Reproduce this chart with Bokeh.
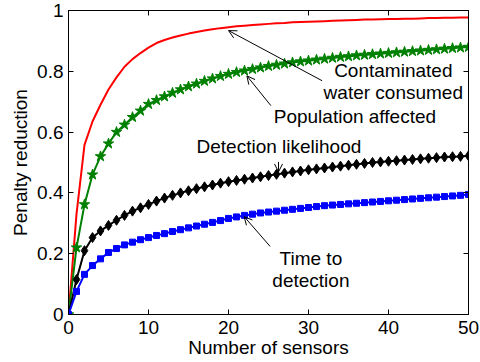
from bokeh.plotting import figure
from bokeh.models import (FixedTicker, LinearAxis, Range1d, Label, Arrow, OpenHead,
                          CustomJSTickFormatter)
from bokeh.embed import file_html
from bokeh.resources import INLINE

sensors = list(range(0, 51))

contaminated = [0, 0.33, 0.558, 0.635, 0.69, 0.74, 0.78, 0.815, 0.84, 0.86,
                0.878, 0.893, 0.903, 0.911, 0.918, 0.924, 0.929, 0.934, 0.938, 0.942,
                0.945, 0.948, 0.950, 0.952, 0.954, 0.956, 0.958, 0.959, 0.961, 0.962,
                0.963, 0.964, 0.965, 0.966, 0.967, 0.968, 0.969, 0.970, 0.970, 0.971,
                0.972, 0.972, 0.973, 0.973, 0.974, 0.975, 0.975, 0.976, 0.976, 0.977,
                0.977]

population = [0, 0.22, 0.362, 0.46, 0.52, 0.562, 0.60, 0.624, 0.649, 0.67,
              0.692, 0.705, 0.717, 0.729, 0.740, 0.750, 0.759, 0.768, 0.776, 0.784,
              0.791, 0.797, 0.802, 0.807, 0.812, 0.817, 0.821, 0.825, 0.829, 0.832,
              0.835, 0.838, 0.841, 0.844, 0.847, 0.849, 0.852, 0.854, 0.856, 0.858,
              0.860, 0.862, 0.864, 0.866, 0.868, 0.870, 0.872, 0.874, 0.876, 0.878,
              0.880]

likelihood = [0, 0.115, 0.21, 0.253, 0.275, 0.293, 0.31, 0.326, 0.34, 0.351,
              0.362, 0.373, 0.383, 0.392, 0.400, 0.407, 0.414, 0.420, 0.426, 0.432,
              0.437, 0.441, 0.445, 0.449, 0.453, 0.457, 0.461, 0.465, 0.469, 0.472,
              0.476, 0.479, 0.482, 0.485, 0.488, 0.491, 0.494, 0.497, 0.500, 0.502,
              0.504, 0.506, 0.508, 0.510, 0.512, 0.514, 0.516, 0.518, 0.519, 0.520,
              0.522]

time_to_detection = [0, 0.076, 0.132, 0.161, 0.183, 0.204, 0.217, 0.229, 0.238, 0.246,
                     0.253, 0.260, 0.266, 0.273, 0.279, 0.285, 0.291, 0.297, 0.303, 0.309,
                     0.316, 0.321, 0.326, 0.330, 0.334, 0.337, 0.340, 0.343, 0.346, 0.349,
                     0.352, 0.355, 0.358, 0.360, 0.362, 0.364, 0.366, 0.368, 0.370, 0.372,
                     0.374, 0.376, 0.378, 0.380, 0.382, 0.384, 0.386, 0.388, 0.390, 0.392,
                     0.395]

x_ticks = [0, 10, 20, 30, 40, 50]
y_ticks = [0, 0.2, 0.4, 0.6, 0.8, 1]

# annotations: text lines (data coords of centre)
ann_text = ["Contaminated", "water consumed", "Population affected",
            "Detection likelihood", "Time to", "detection"]
ann_x = [40.6, 40.6, 35.8, 26.3, 30.3, 30.3]
ann_y = [0.801, 0.730, 0.652, 0.553, 0.184, 0.112]

# arrows: tail -> head (data coords)
arr_x0 = [31.7, 25.3, 26.25, 25.2]
arr_y0 = [0.769, 0.687, 0.502, 0.224]
arr_x1 = [20.0, 22.3, 26.25, 21.96]
arr_y1 = [0.934, 0.785, 0.469, 0.322]

FONT = "Liberation Sans"
FS = "19px"

p = figure(width=480, height=362, output_backend="svg", toolbar_location=None,
           x_range=Range1d(0, 50), y_range=Range1d(0, 1),
           min_border_left=68, min_border_right=12, min_border_top=10,
           min_border_bottom=48, x_axis_label="Number of sensors",
           y_axis_label="Penalty reduction")
p.background_fill_color = "white"
p.border_fill_color = "white"
p.outline_line_color = "black"
p.outline_line_width = 1
p.xgrid.visible = False
p.ygrid.visible = False

for ax, ticks in ((p.xaxis[0], x_ticks), (p.yaxis[0], y_ticks)):
    ax.ticker = FixedTicker(ticks=ticks)
    ax.major_tick_in = 5
    ax.major_tick_out = 0
    ax.minor_tick_in = 0
    ax.minor_tick_out = 0
    ax.axis_line_color = "black"
    ax.major_tick_line_color = "black"
    ax.major_label_text_font = FONT
    ax.major_label_text_font_size = FS
    ax.major_label_text_color = "black"
    ax.axis_label_text_font = FONT
    ax.axis_label_text_font_size = FS
    ax.axis_label_text_font_style = "normal"
    ax.axis_label_text_color = "black"
    ax.formatter = CustomJSTickFormatter(code="return String(Math.round(tick*10)/10);")

p.xaxis[0].major_label_standoff = 6
p.xaxis[0].axis_label_standoff = 0
p.yaxis[0].major_label_standoff = 5
p.yaxis[0].axis_label_standoff = 3

for loc, ticks in (("above", x_ticks), ("right", y_ticks)):
    ax = LinearAxis(ticker=FixedTicker(ticks=ticks),
                    formatter=CustomJSTickFormatter(code="return '';"),
                    major_tick_in=5, major_tick_out=0, minor_tick_in=0, minor_tick_out=0,
                    major_label_standoff=0, major_label_text_font_size="1px",
                    axis_line_color="black")
    p.add_layout(ax, loc)

p.line(sensors, contaminated, line_color="#ff0000", line_width=2)
p.line(sensors, population, line_color="#008000", line_width=2)
p.scatter(sensors, population, marker="star", size=11, fill_color="#008000",
          line_color="#008000")
p.line(sensors, likelihood, line_color="black", line_width=2)
p.scatter(sensors, likelihood, marker="diamond", size=10, fill_color="black",
          line_color="black")
p.line(sensors, time_to_detection, line_color="#0000ff", line_width=2)
p.scatter(sensors, time_to_detection, marker="square", size=6, fill_color="#0000ff",
          line_color="#0000ff")

for t, x, y in zip(ann_text, ann_x, ann_y):
    p.add_layout(Label(x=x, y=y, text=t, text_align="center", text_baseline="alphabetic",
                       text_font=FONT, text_font_size=FS, text_color="black"))

for x0, y0, x1, y1 in zip(arr_x0, arr_y0, arr_x1, arr_y1):
    p.add_layout(Arrow(end=OpenHead(size=8, line_width=1, line_color="black"),
                       x_start=x0, y_start=y0, x_end=x1, y_end=y1,
                       line_width=1, line_color="black"))

open("out.html", "w").write(file_html(p, INLINE))
